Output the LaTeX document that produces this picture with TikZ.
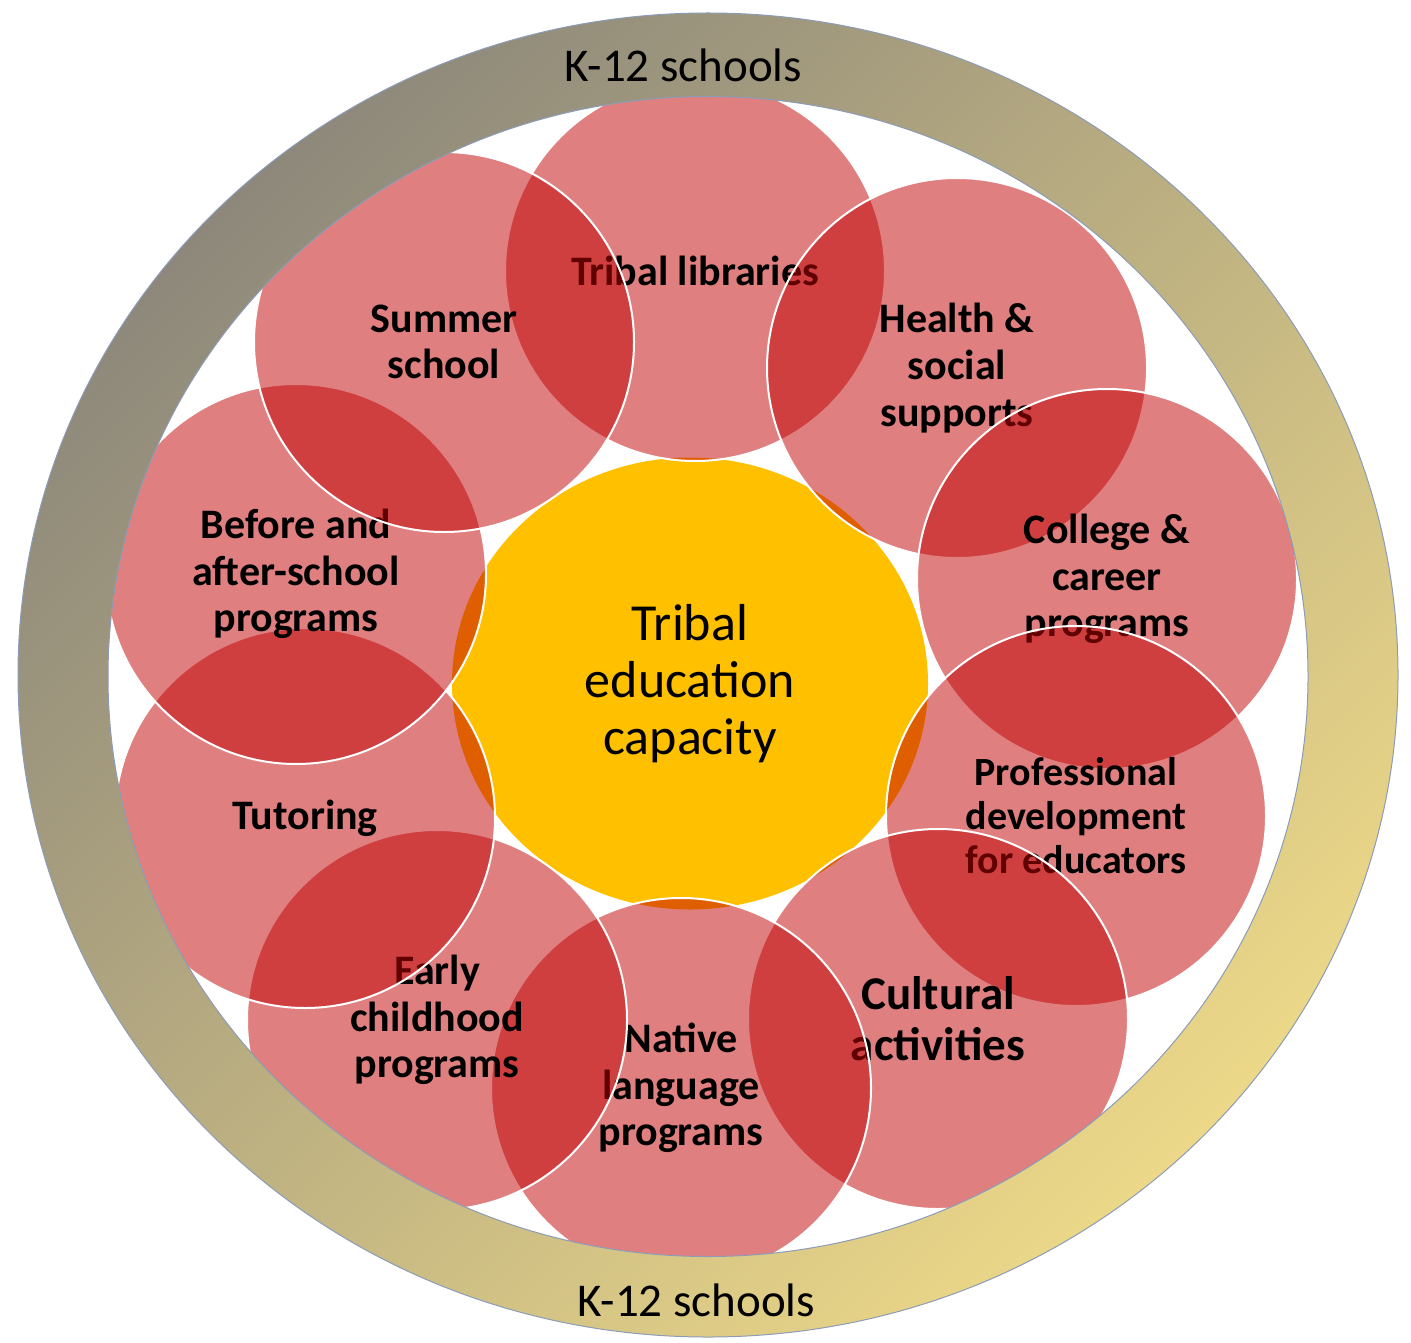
\documentclass[tikz,border=0pt]{standalone}
\usepackage{fontspec}
\setmainfont{Carlito}
\usetikzlibrary{shapes.geometric}
\definecolor{bubblered}{HTML}{C00000}
\definecolor{coreyellow}{HTML}{FFC000}
\definecolor{ringdark}{HTML}{8D887B}
\definecolor{ringlight}{HTML}{ECD888}
\definecolor{ringedge}{HTML}{8C9CB8}
\begin{document}
\begin{tikzpicture}[x=0.5pt,y=-0.5pt,
  bubble/.style={circle, minimum size=190pt, inner sep=0pt, fill=bubblered,
    fill opacity=0.5, text opacity=1, draw=white, draw opacity=1, line width=1pt,
    align=center, text=black, font=\fontsize{21}{23.3}\selectfont\bfseries},
  core/.style={ellipse, minimum width=238pt, minimum height=226pt, inner sep=0pt,
    fill=coreyellow, align=center, font=\fontsize{26}{28.5}\selectfont},
  ringlabel/.style={font=\fontsize{23.5}{28}\selectfont, anchor=base}]
\useasboundingbox (0,0) rectangle (1411,1342);
\node[core] (core) at (690,683.5) {Tribal\\education\\capacity};
\node[bubble] (lib) at (695,271) {Tribal libraries};
\node[bubble] (health) at (957,368) {Health \&\\social\\supports};
\node[bubble] (college) at (1107,579) {College \&\\career\\programs};
\node[bubble, font=\fontsize{20}{22}\selectfont\bfseries] (prof) at (1076,816) {Professional\\development\\for educators};
\node[bubble, font=\fontsize{23.5}{25.5}\selectfont\bfseries] (cult) at (938,1019) {Cultural\\activities};
\node[bubble] (native) at (681,1088) {Native\\language\\programs};
\node[bubble] (early) at (437,1020) {Early\\childhood\\programs};
\node[bubble] (tutor) at (305,818) {Tutoring};
\node[bubble] (before) at (296,574) {Before and\\after-school\\programs};
\node[bubble] (summer) at (444,342) {Summer\\school};
\path[even odd rule, shade, top color=ringdark, bottom color=ringlight, shading angle=45,
  draw=ringedge, line width=0.5pt]
  (708,675) ellipse [x radius=345pt, y radius=331pt]
  (708,676.5) ellipse [x radius=300pt, y radius=290pt];
\node[ringlabel] (k12top) at (683,82) {K-12 schools};
\node[ringlabel] (k12bot) at (696,1316) {K-12 schools};
\end{tikzpicture}
\end{document}
